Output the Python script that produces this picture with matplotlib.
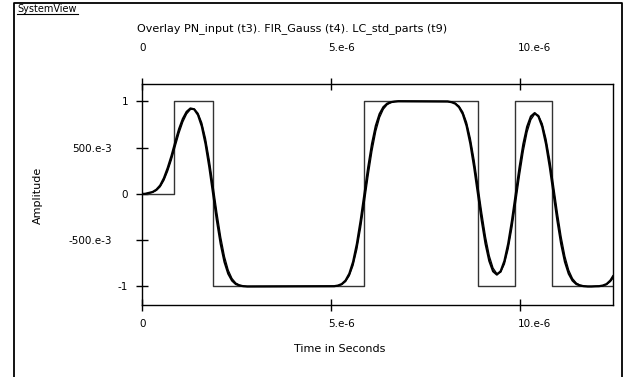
import matplotlib
matplotlib.use("Agg")
import matplotlib.pyplot as plt
import matplotlib.transforms as mtransforms
from matplotlib.lines import Line2D

plt.rcParams['font.family'] = ['DejaVu Sans']

# PN input (t3): square wave, edge times in microseconds and levels
pn_t = [0, 0.84, 1.88, 5.88, 8.88, 9.87, 10.85, 12.45]
pn_v = [0, 1, -1, 1, -1, 1, -1, -1]

# filtered outputs (time in microseconds)
gauss_t = [0, 0.08, 0.18, 0.28, 0.38, 0.48, 0.58, 0.68, 0.78, 0.88, 0.98,
           1.08, 1.18, 1.28, 1.38, 1.48, 1.58, 1.68, 1.78, 1.88, 1.98,
           2.08, 2.18, 2.28, 2.38, 2.48, 2.58, 2.68, 2.78,
           5.08, 5.18, 5.28, 5.38, 5.48, 5.58, 5.68, 5.78, 5.88, 5.98,
           6.08, 6.18, 6.28, 6.38, 6.48, 6.58, 6.68, 6.78,
           8.08, 8.18, 8.28, 8.38, 8.48, 8.58, 8.68, 8.78, 8.88, 8.98,
           9.08, 9.18, 9.28, 9.38, 9.48, 9.58, 9.68, 9.78, 9.88, 9.98,
           10.08, 10.18, 10.28, 10.38, 10.48, 10.58, 10.68, 10.78, 10.88, 10.98,
           11.08, 11.18, 11.28, 11.38, 11.48, 11.58, 11.68, 11.78, 11.88, 11.98,
           12.08, 12.18, 12.28, 12.38, 12.45]

fir_v = [0, 0.0, 0.01, 0.02, 0.045, 0.09, 0.17, 0.28, 0.41, 0.56, 0.70,
         0.81, 0.886, 0.922, 0.913, 0.853, 0.731, 0.539, 0.288, 0.0, -0.288,
         -0.54, -0.734, -0.862, -0.936, -0.974, -0.99, -0.997, -1.0,
         -0.997, -0.99, -0.974, -0.936, -0.862, -0.734, -0.54, -0.288, 0.0, 0.288,
         0.54, 0.734, 0.862, 0.936, 0.974, 0.99, 0.997, 1.0,
         0.997, 0.99, 0.974, 0.936, 0.862, 0.734, 0.54, 0.288, 0.0, -0.287,
         -0.537, -0.724, -0.836, -0.872, -0.836, -0.724, -0.537, -0.288, 0.0, 0.287,
         0.537, 0.724, 0.836, 0.872, 0.836, 0.724, 0.537, 0.288, 0.0, -0.288,
         -0.54, -0.734, -0.862, -0.936, -0.974, -0.99, -0.997, -1.0, -1.0, -0.998,
         -0.997, -0.99, -0.974, -0.936, -0.89]

lc_v = [0, 0.0, 0.007, 0.017, 0.037, 0.076, 0.146, 0.247, 0.371, 0.515, 0.658,
        0.777, 0.863, 0.911, 0.916, 0.871, 0.768, 0.597, 0.363, 0.086, -0.202,
        -0.464, -0.676, -0.824, -0.914, -0.963, -0.985, -0.995, -1.0,
        -0.998, -0.992, -0.979, -0.947, -0.884, -0.772, -0.598, -0.364, -0.086, 0.202,
        0.464, 0.676, 0.824, 0.914, 0.963, 0.985, 0.995, 1.0,
        0.998, 0.992, 0.979, 0.947, 0.884, 0.772, 0.598, 0.364, 0.086, -0.201,
        -0.462, -0.668, -0.801, -0.861, -0.847, -0.758, -0.593, -0.363, -0.086, 0.201,
        0.462, 0.668, 0.801, 0.861, 0.847, 0.758, 0.593, 0.363, 0.086, -0.202,
        -0.464, -0.676, -0.824, -0.914, -0.963, -0.985, -0.995, -1.0, -1.0, -0.999,
        -0.997, -0.992, -0.979, -0.947, -0.91]

xticks = [0, 5e-6, 10e-6]
xtick_labels = ["0", "5.e-6", "10.e-6"]
yticks = [-1, -0.5, 0, 0.5, 1]
ytick_labels = ["-1", "-500.e-3", "0", "500.e-3", "1"]

us = 1e-6
fig = plt.figure(figsize=(6.23, 3.77), dpi=100)
ax = fig.add_axes([142/623, 1-305/377, (613-142)/623, (305-84)/377])

ax.step([t*us for t in pn_t], pn_v, where='post', color='#333333', lw=1.0)
ax.plot([t*us for t in gauss_t], fir_v, color='black', lw=1.6)
ax.plot([t*us for t in gauss_t], lc_v, color='black', lw=0.9)

ax.set_xlim(0, 12.45e-6)
ax.set_ylim(-1.2, 1.186)

for s in ax.spines.values():
    s.set_linewidth(1.0)

ax.set_xticks(xticks)
ax.set_xticklabels(xtick_labels)
ax.set_yticks(yticks)
ax.set_yticklabels(ytick_labels)
ax.tick_params(axis='x', direction='inout', length=8, width=1, labelsize=7.5,
               top=True, labeltop=True, pad=6)
ax.tick_params(axis='y', direction='inout', length=8, width=1, labelsize=7.5, pad=6)

# SystemView puts the x labels just right of the tick, top row well above the axis
for t in ax.xaxis.get_major_ticks():
    t.label1.set_horizontalalignment('left')
    t.label1.set_transform(t.label1.get_transform() +
                           mtransforms.ScaledTranslation(-3/100, 0, fig.dpi_scale_trans))
    t.label2.set_horizontalalignment('left')
    t.label2.set_transform(t.label2.get_transform() +
                           mtransforms.ScaledTranslation(-3/100, 17/100, fig.dpi_scale_trans))
for lab in ax.get_yticklabels():
    if 'e' in lab.get_text():
        lab.set_transform(lab.get_transform() +
                          mtransforms.ScaledTranslation(-16/100, 0, fig.dpi_scale_trans))

ax.set_xlabel("Time in Seconds", fontsize=8)
ax.xaxis.set_label_coords(0.42, -0.177)
ax.set_ylabel("Amplitude", fontsize=8)
ax.yaxis.set_label_coords(-0.21, 0.495)

fig.text(137/623, 1-29/377, "Overlay PN_input (t3). FIR_Gauss (t4). LC_std_parts (t9)",
         fontsize=8, va='center', ha='left')
fig.text(17/623, 1-9/377, "SystemView", fontsize=7, va='center', ha='left')
fig.add_artist(Line2D([17/623, 78/623], [1-14/377, 1-14/377], color='black', lw=0.8))

# outer frame, open at the bottom
fig.add_artist(Line2D([14/623, 14/623, 622/623, 622/623], [0, 1-3/377, 1-3/377, 0],
                      color='black', lw=1.3))

fig.savefig("out.png", dpi=100)
